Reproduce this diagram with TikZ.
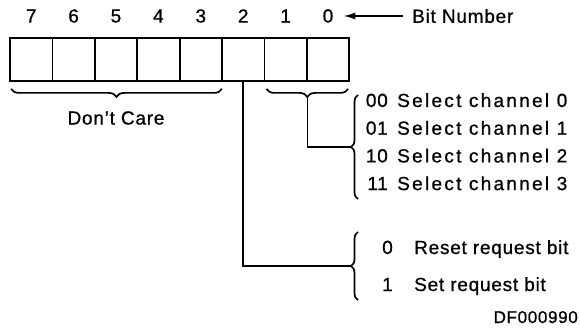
\documentclass[tikz,border=0pt]{standalone}
\usepackage{fontspec}
\setmainfont{Liberation Sans}[LetterSpace=4, FakeBold=0.8]
\usetikzlibrary{arrows.meta,decorations.pathreplacing}

\tikzset{
	cell/.style={draw, line width=1.8pt, minimum width=42.4pt, minimum height=43pt, inner sep=0pt},
	lbl/.style={font=\fontsize{19}{21}\selectfont, inner sep=0pt},
	wide/.style={lbl, font=\fontsize{19}{21}\selectfont\addfontfeature{LetterSpace=12}},
	brcdown/.style={decorate, decoration={brace, mirror, amplitude=8pt}, line width=1.7pt},
	brcleft/.style={decorate, decoration={brace, amplitude=7pt}, line width=1.7pt},
	wire/.style={line width=1.5pt},
}

\begin{document}
\begin{tikzpicture}[x=1pt, y=-1pt]
			%%%%% START %%%%%
			\useasboundingbox (0, 0) rectangle (580, 331);
			
			\foreach \i in {0,...,7}{
				\pgfmathtruncatemacro{\b}{7-\i}
				\node[cell] (bit\b) at (31.2+42.4*\i, 59.5) {};
				\node[lbl] (num\b) at (31.2+42.4*\i, 16) {\b};
			}
			
			\node[lbl, anchor=west] (bitnum) at (412, 16) {Bit Number};
			\draw[wire, -{Latex[length=12pt, width=7pt]}, shorten <=9pt, shorten >=10pt] (bitnum.west) -- (num0.east);
			
			\draw[brcdown] ([xshift=2pt, yshift=-7pt]bit7.south west) -- ([xshift=-1pt, yshift=-7pt]bit3.south east);
			\node[lbl] (dontcare) at (116, 118) {Don't Care};
			
			\draw[brcdown] ([xshift=3pt, yshift=-7pt]bit1.south west) -- ([xshift=-2pt, yshift=-7pt]bit0.south east);
			\coordinate (sel) at ([yshift=-15pt]bit1.south east);
			
			\coordinate (chtop) at (358, 95);
			\coordinate (chbot) at (358, 199);
			\draw[brcleft] (chbot) -- (chtop);
			\coordinate (chtip) at (351, 147);
			\draw[wire] (sel) |- (chtip);
			
			\foreach \c/\n [count=\k from 0] in {00/0, 01/1, 10/2, 11/3}{
				\node[lbl, anchor=base east] (code\c) at (388, 107+27.7*\k) {\c};
				\node[wide, anchor=base west] (chan\n) at (397, 107+27.7*\k) {Select channel \n};
			}
			
			\coordinate (rqtop) at (358, 232);
			\coordinate (rqbot) at (358, 300);
			\draw[brcleft] (rqbot) -- (rqtop);
			\coordinate (rqtip) at (351, 266);
			\draw[wire] (bit2.south) |- (rqtip);
			
			\node[lbl, anchor=base east] (code0) at (393, 254) {0};
			\node[lbl, anchor=base west] (reset) at (414, 254) {Reset request bit};
			\node[lbl, anchor=base east] (code1) at (393, 291) {1};
			\node[lbl, anchor=base west] (set) at (414, 291) {Set request bit};
			
			\node[lbl, anchor=base east, font=\fontsize{17}{19}\selectfont] (figid) at (578, 323) {DF000990};
			%%%%% END %%%%%
\end{tikzpicture}
\end{document}
